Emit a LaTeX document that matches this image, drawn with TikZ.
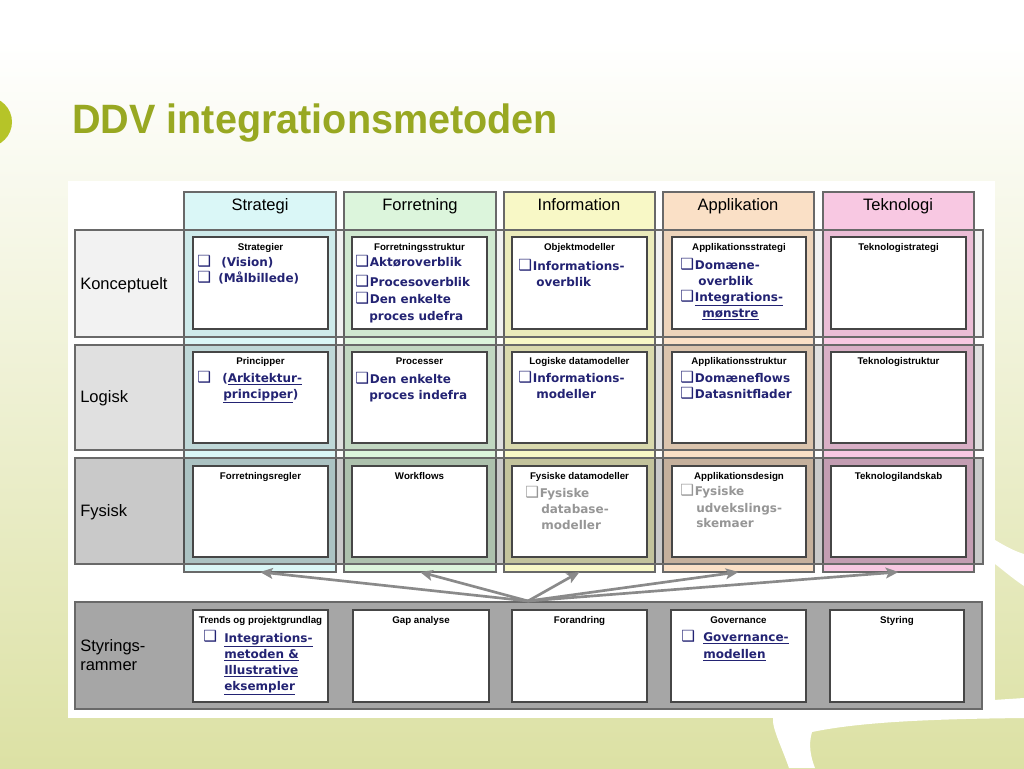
\documentclass[tikz,border=0pt]{standalone}
\usepackage{fontspec}
\setmainfont{Liberation Sans}
\newfontfamily\vera{DejaVu Sans}
\usepackage{graphicx}
\usetikzlibrary{arrows.meta}
\definecolor{titlegreen}{RGB}{152,168,34}
\definecolor{dotgreen}{RGB}{182,196,40}
\definecolor{bggreen}{RGB}{220,225,164}
\definecolor{bgmid}{RGB}{234,237,198}
\definecolor{cS}{RGB}{218,247,247}
\definecolor{cF}{RGB}{220,245,220}
\definecolor{cI}{RGB}{248,248,198}
\definecolor{cA}{RGB}{250,224,198}
\definecolor{cT}{RGB}{248,200,226}
\definecolor{bord}{RGB}{105,105,105}
\definecolor{celld}{RGB}{70,70,70}
\definecolor{navy}{RGB}{35,35,115}
\definecolor{itgray}{RGB}{150,150,150}
\definecolor{arrgray}{RGB}{138,138,138}
\definecolor{styr}{RGB}{166,166,166}
\newcommand\hdrfont{\fontsize{12.4pt}{14pt}\selectfont}
\newcommand\ctfont{\bfseries\fontsize{7.3pt}{9pt}\selectfont}
\newcommand\itfont{\vera\bfseries\fontsize{9pt}{12pt}\selectfont}
\newcommand\cb{{\vera\mdseries\fontsize{11.5pt}{12pt}\selectfont\char"2751}\kern0.6pt}
\newcommand\mkbox[6]{\node[#6, minimum width={(#4-#2)*0.75pt}, minimum height={(#5-#3)*0.75pt}] (#1) at ({(#2+#4)/2},{(#3+#5)/2}) {};}
\tikzset{
  colbox/.style={draw=bord, line width=0.9pt, inner sep=0pt, outer sep=0pt},
  rowbox/.style={draw=bord, line width=0.9pt, fill=black, fill opacity=#1, inner sep=0pt, outer sep=0pt},
  styrbox/.style={draw=bord, line width=0.9pt, fill=styr, inner sep=0pt, outer sep=0pt},
  cellbox/.style={draw=celld, line width=1.2pt, fill=white, inner sep=0pt, outer sep=0pt},
  hdr/.style={font=\hdrfont, anchor=base, inner sep=0pt},
  rlab/.style={font=\hdrfont, anchor=base west, inner sep=0pt},
  ctitle/.style={font=\ctfont, anchor=base, inner sep=0pt},
  itm/.style={font=\itfont, text=navy, anchor=base west, inner sep=0pt},
  itmg/.style={itm, text=itgray},
  arr/.style={draw=arrgray, line width=2pt, -{Stealth[length=9.5pt,width=8pt,inset=2pt]}},
}
\begin{document}
\begin{tikzpicture}[x=0.75pt,y=-0.75pt]
\useasboundingbox (0,0) rectangle (1024,768);
% background
\fill[white] (0,0) rectangle (1024,768);
\shade[top color=white, middle color=bgmid, bottom color=bggreen] (0,40) rectangle (1024,768);
\fill[dotgreen] (-13,122) circle [radius=25];
% swoosh
\fill[white] (789,768) .. controls (782,748) and (774,732) .. (773,722) .. controls (773,716) .. (780,714) -- (1024,698) -- (1024,718) .. controls (930,719) and (860,722) .. (812,732) .. controls (808,745) and (811,758) .. (815,768) -- cycle;
\fill[white] (995,540) .. controls (1005,546) and (1014,551) .. (1024,554) -- (1024,586) .. controls (1012,578) and (1003,570) .. (995,564) -- cycle;
% title
\node[anchor=base west, inner sep=0pt, text=titlegreen, font=\bfseries\fontsize{30.75pt}{36pt}\selectfont] (title) at (72,133) {\scalebox{0.965}[1]{DDV integrationsmetoden}};
% diagram panel
\fill[white] (68,181) rectangle (995,718);
% columns
\mkbox{colS}{184}{192}{336}{572}{colbox, fill=cS}
\mkbox{colF}{344}{192}{496}{572}{colbox, fill=cF}
\mkbox{colI}{504}{192}{655}{572}{colbox, fill=cI}
\mkbox{colA}{663}{192}{814}{572}{colbox, fill=cA}
\mkbox{colT}{823}{192}{974}{572}{colbox, fill=cT}
\node[hdr] (hS) at (260,210) {Strategi};
\node[hdr] (hF) at (420,210) {Forretning};
\node[hdr] (hI) at (579,210) {Information};
\node[hdr] (hA) at (738,210) {Applikation};
\node[hdr] (hT) at (898,210) {Teknologi};
% rows
\mkbox{rowK}{75}{230}{983}{337}{rowbox=0.05}
\mkbox{rowL}{75}{345}{983}{450}{rowbox=0.12}
\mkbox{rowP}{75}{458}{983}{564}{rowbox=0.21}
\mkbox{rowS}{75}{602}{982}{709}{styrbox}
\node[rlab] (lK) at (80,289) {Konceptuelt};
\node[rlab] (lL) at (80,402) {Logisk};
\node[rlab] (lP) at (80,516) {Fysisk};
\node[rlab] (lS1) at (80,651) {Styrings-};
\node[rlab] (lS2) at (80,670) {rammer};
% cells row 1
\mkbox{c11}{193}{237}{328}{329}{cellbox}
\mkbox{c12}{352}{237}{487}{329}{cellbox}
\mkbox{c13}{512}{237}{647}{329}{cellbox}
\mkbox{c14}{672}{237}{806}{329}{cellbox}
\mkbox{c15}{831}{237}{966}{329}{cellbox}
% cells row 2
\mkbox{c21}{193}{352}{328}{443}{cellbox}
\mkbox{c22}{352}{352}{487}{443}{cellbox}
\mkbox{c23}{512}{352}{647}{443}{cellbox}
\mkbox{c24}{672}{352}{806}{443}{cellbox}
\mkbox{c25}{831}{352}{966}{443}{cellbox}
% cells row 3
\mkbox{c31}{193}{466}{328}{557}{cellbox}
\mkbox{c32}{352}{466}{487}{557}{cellbox}
\mkbox{c33}{512}{466}{647}{557}{cellbox}
\mkbox{c34}{672}{466}{806}{557}{cellbox}
\mkbox{c35}{831}{466}{966}{557}{cellbox}
% cells row 4
\mkbox{c41}{193}{610}{328}{702}{cellbox}
\mkbox{c42}{353}{610}{489}{702}{cellbox}
\mkbox{c43}{512}{610}{647}{702}{cellbox}
\mkbox{c44}{671}{610}{806}{702}{cellbox}
\mkbox{c45}{830}{610}{964}{702}{cellbox}
% titles
\node[ctitle] (t11) at (260.5,250) {Strategier};
\node[ctitle] (t12) at (419.5,250) {Forretningsstruktur};
\node[ctitle] (t13) at (579.5,250) {Objektmodeller};
\node[ctitle] (t14) at (739,250) {Applikationsstrategi};
\node[ctitle] (t15) at (898.5,250) {Teknologistrategi};
\node[ctitle] (t21) at (260.5,364) {Principper};
\node[ctitle] (t22) at (419.5,364) {Processer};
\node[ctitle] (t23) at (579.5,364) {Logiske datamodeller};
\node[ctitle] (t24) at (739,364) {Applikationsstruktur};
\node[ctitle] (t25) at (898.5,364) {Teknologistruktur};
\node[ctitle] (t31) at (260.5,479) {Forretningsregler};
\node[ctitle] (t32) at (419.5,479) {Workflows};
\node[ctitle] (t33) at (579.5,479) {Fysiske datamodeller};
\node[ctitle] (t34) at (739,479) {Applikationsdesign};
\node[ctitle] (t35) at (898.5,479) {Teknologilandskab};
\node[ctitle] (t41) at (260.5,623) {Trends og projektgrundlag};
\node[ctitle] (t42) at (421,623) {Gap analyse};
\node[ctitle] (t43) at (579.5,623) {Forandring};
\node[ctitle] (t44) at (738.5,623) {Governance};
\node[ctitle] (t45) at (897,623) {Styring};
% items row 1
\node[itm] (b11a) at (197,266) {\cb};
\node[itm] (i11a) at (221,266) {(Vision)};
\node[itm] (b11b) at (197,282) {\cb};
\node[itm] (i11b) at (218,282) {(Målbillede)};
\node[itm] (i12a) at (355,266) {\cb Aktøroverblik};
\node[itm] (i12b) at (355,286) {\cb Procesoverblik};
\node[itm] (i12c) at (355,303) {\cb Den enkelte};
\node[itm] (i12d) at (369,320) {proces udefra};
\node[itm] (i13a) at (518,270) {\cb Informations-};
\node[itm] (i13b) at (536,286) {overblik};
\node[itm] (i14a) at (680,269) {\cb Domæne-};
\node[itm] (i14b) at (698,285) {overblik};
\node[itm] (i14c) at (680,301) {\cb \underline{Integrations-}};
\node[itm] (i14d) at (702,317) {\underline{mønstre}};
% items row 2
\node[itm] (b21a) at (197,382) {\cb};
\node[itm] (i21a) at (222,382) {(\underline{Arkitektur-}};
\node[itm] (i21b) at (223,398) {\underline{principper})};
\node[itm] (i22a) at (355,383) {\cb Den enkelte};
\node[itm] (i22b) at (369,399) {proces indefra};
\node[itm] (i23a) at (518,382) {\cb Informations-};
\node[itm] (i23b) at (536,398) {modeller};
\node[itm] (i24a) at (680,382) {\cb Domæneflows};
\node[itm] (i24b) at (680,398) {\cb Datasnitflader};
% items row 3
\node[itmg] (i33a) at (525,497) {\cb Fysiske};
\node[itmg] (i33b) at (541,513) {database-};
\node[itmg] (i33c) at (541,529) {modeller};
\node[itmg] (i34a) at (680,495) {\cb Fysiske};
\node[itmg] (i34b) at (696,512) {udvekslings-};
\node[itmg] (i34c) at (696,527) {skemaer};
% items row 4
\node[itm] (b41a) at (203,641) {\cb};
\node[itm] (i41a) at (224,642) {\underline{Integrations-}};
\node[itm] (i41b) at (224,658) {\underline{metoden \&}};
\node[itm] (i41c) at (224,674) {\underline{Illustrative}};
\node[itm] (i41d) at (224,690) {\underline{eksempler}};
\node[itm] (b44a) at (681,641) {\cb};
\node[itm] (i44a) at (703,641) {\underline{Governance-}};
\node[itm] (i44b) at (703,658) {\underline{modellen}};
% arrows
\coordinate (src) at (528,601);
\draw[arr] (src) -- (colS.south);
\draw[arr] (src) -- (colF.south);
\draw[arr] (src) -- (colI.south);
\draw[arr] (src) -- (colA.south);
\draw[arr] (src) -- (colT.south);
\end{tikzpicture}
\end{document}
